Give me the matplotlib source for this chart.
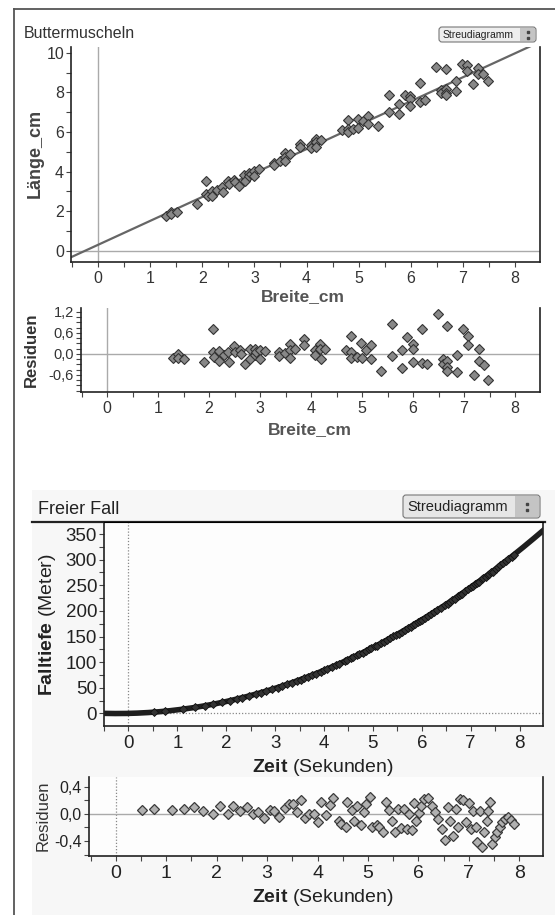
import matplotlib
matplotlib.use("Agg")
import matplotlib.pyplot as plt
import numpy as np
from matplotlib.patches import FancyBboxPatch, Rectangle
from matplotlib.ticker import MultipleLocator, FuncFormatter

plt.rcParams['font.family'] = ['Liberation Sans', 'DejaVu Sans']
plt.rcParams['mathtext.fontset'] = 'custom'
plt.rcParams['mathtext.rm'] = 'Liberation Sans'
plt.rcParams['mathtext.bf'] = 'Liberation Sans:bold'

# --- Buttermuscheln: Breite (cm) und Residuen der Regression ---
breite = [1.30, 1.39, 1.40, 1.51, 1.90, 2.08, 2.08, 2.10, 2.19, 2.19,
          2.29, 2.38, 2.40, 2.49, 2.51, 2.60, 2.62, 2.70, 2.80, 2.81,
          2.90, 2.90, 2.93, 3.00, 3.00, 3.09, 3.38, 3.38, 3.49, 3.58,
          3.58, 3.58, 3.68, 3.87, 3.87, 4.08, 4.08, 4.18, 4.18, 4.19,
          4.28, 4.69, 4.79, 4.79, 4.79, 4.90, 4.98, 4.99, 5.08, 5.17,
          5.17, 5.38, 5.58, 5.58, 5.78, 5.78, 5.88, 5.99, 5.99, 5.99,
          6.17, 6.17, 6.28, 6.49, 6.58, 6.58, 6.67, 6.67, 6.67, 6.67,
          6.87, 6.87, 6.98, 7.08, 7.08, 7.19, 7.29, 7.29, 7.39, 7.48]
residuen = [-0.11, 0.00, -0.13, -0.16, -0.23, 0.71, 0.05, -0.09, 0.08, -0.19,
            -0.02, 0.06, -0.24, 0.22, 0.05, 0.12, 0.00, -0.30, 0.15, -0.16,
            0.14, -0.04, 0.05, 0.12, -0.16, 0.08, 0.06, -0.05, 0.03, 0.29,
            0.12, -0.11, 0.14, 0.43, 0.24, 0.12, -0.02, 0.29, 0.14, -0.14,
            0.14, 0.12, 0.52, 0.06, -0.11, -0.10, 0.31, -0.11, 0.12, 0.24,
            -0.16, -0.50, 0.84, -0.05, 0.12, -0.40, 0.48, 0.27, 0.14, -0.23,
            0.71, -0.26, -0.30, 1.15, -0.16, -0.28, 0.81, -0.21, -0.38, -0.48,
            -0.02, -0.52, 0.71, 0.52, 0.24, -0.59, 0.14, -0.21, -0.33, -0.76]
fit_a, fit_b = 0.30, 1.21   # Laenge = a + b * Breite

# --- Freier Fall: Zeit (s) und Residuen des Modells ---
zeit = [0.53, 0.75, 1.12, 1.36, 1.56, 1.73, 1.92, 2.07, 2.22, 2.33,
        2.47, 2.61, 2.72, 2.82, 2.93, 3.05, 3.14, 3.24, 3.35, 3.44,
        3.52, 3.59, 3.68, 3.75, 3.84, 3.93, 4.01, 4.07, 4.17, 4.24,
        4.31, 4.42, 4.47, 4.56, 4.59, 4.68, 4.72, 4.79, 4.86, 4.93,
        4.96, 5.05, 5.08, 5.17, 5.22, 5.29, 5.35, 5.42, 5.47, 5.53,
        5.59, 5.66, 5.71, 5.77, 5.82, 5.87, 5.92, 5.96, 6.01, 6.06,
        6.12, 6.19, 6.26, 6.32, 6.39, 6.47, 6.53, 6.58, 6.62, 6.68,
        6.74, 6.79, 6.82, 6.89, 6.95, 7.00, 7.05, 7.09, 7.14, 7.17,
        7.23, 7.26, 7.31, 7.35, 7.38, 7.42, 7.45, 7.51, 7.56, 7.61,
        7.66, 7.72, 7.77, 7.84, 7.89]
res_fall = [0.05, 0.07, 0.05, 0.07, 0.10, 0.04, 0.00, 0.11, -0.01, 0.11,
            0.04, 0.10, -0.01, 0.03, -0.06, 0.05, 0.04, -0.04, 0.09, 0.15,
            0.14, 0.02, 0.20, -0.06, -0.01, -0.01, -0.12, 0.17, -0.02, 0.13,
            0.23, -0.11, -0.15, -0.19, 0.18, 0.05, -0.11, 0.12, -0.17, 0.02,
            0.15, 0.24, -0.20, -0.17, -0.20, -0.27, 0.18, 0.06, -0.10, -0.27,
            0.07, -0.21, 0.07, -0.23, -0.01, -0.24, 0.16, -0.11, 0.01, 0.12,
            0.22, 0.23, 0.12, 0.02, -0.07, -0.22, -0.39, 0.10, -0.10, -0.33,
            0.07, -0.19, 0.22, 0.20, -0.12, 0.16, -0.23, 0.04, -0.19, -0.41,
            0.04, -0.49, -0.27, -0.11, 0.04, 0.17, -0.45, -0.34, -0.27, -0.20,
            -0.12, -0.07, -0.05, -0.09, -0.15]
fall_a, fall_b = 4.70, 2.20   # Falltiefe = a*t^2 + b*t

W, H = 555, 915
fig = plt.figure(figsize=(W / 100, H / 100), dpi=100)
fig.patch.set_facecolor('white')


def rect(x0, y0, x1, y1):
    return [x0 / W, 1 - y1 / H, (x1 - x0) / W, (y1 - y0) / H]


def comma(v, pos):
    s = f"{v:.1f}".replace('.', ',')
    return '0,0' if s == '-0,0' else s


# background layer in pixel coordinates
bg = fig.add_axes([0, 0, 1, 1], zorder=-1)
bg.set_xlim(0, W)
bg.set_ylim(H, 0)
bg.axis('off')
bg.add_patch(Rectangle((32, 490), W - 32, H - 490, facecolor='#f7f7f7', edgecolor='none'))
bg.plot([14, 14], [9, H], color='#555555', lw=1.3)
bg.plot([14, W], [9, 9], color='#555555', lw=1.3)
bg.plot([32, 545], [521.7, 521.7], color='#222222', lw=1.6)


def button(x0, y0, x1, y1, fs, face):
    bg.add_patch(FancyBboxPatch((x0, y0), x1 - x0, y1 - y0,
                                boxstyle="round,pad=0,rounding_size=3",
                                facecolor=face, edgecolor='#777777', lw=0.8))
    sw = (y1 - y0) * 1.1
    bg.add_patch(Rectangle((x1 - sw, y0 + 1), sw - 1, y1 - y0 - 2,
                           facecolor='#c4c4c4', edgecolor='none'))
    cx, cy = x1 - sw / 2, (y0 + y1) / 2
    bg.plot([cx, cx], [cy - 3, cy + 3], ls='none', marker='s', ms=1.6, color='#444444')
    bg.text(x0 + 4, cy, 'Streudiagramm', fontsize=fs, ha='left', va='center', color='#222222')


button(439, 27, 536, 42, 7.5, '#eeeeee')
button(403, 495, 540, 518, 10.5, '#e6e6e6')

bg.text(24, 33, 'Buttermuscheln', fontsize=11.5, ha='left', va='center', color='#333333')
bg.text(38, 509, 'Freier Fall', fontsize=13, ha='left', va='center', color='#222222')

bg.text(35, 153, 'Länge_cm', fontsize=13, fontweight='bold', rotation=90,
        ha='center', va='center', color='#444444')
bg.text(303, 297, 'Breite_cm', fontsize=12.5, fontweight='bold', ha='center', va='center', color='#555555')
bg.text(31, 350, 'Residuen', fontsize=12, fontweight='bold', rotation=90,
        ha='center', va='center', color='#333333')
bg.text(310, 430, 'Breite_cm', fontsize=12.5, fontweight='bold', ha='center', va='center', color='#555555')
bg.text(48, 625, r'$\mathbf{Falltiefe}$ (Meter)', fontsize=14, rotation=90,
        ha='center', va='center', color='#222222')
bg.text(323, 767, r'$\mathbf{Zeit}$ (Sekunden)', fontsize=14, ha='center', va='center', color='#222222')
bg.text(43, 816, 'Residuen', fontsize=12, rotation=90, ha='center', va='center', color='#333333')
bg.text(323, 897, r'$\mathbf{Zeit}$ (Sekunden)', fontsize=14, ha='center', va='center', color='#222222')


def style(ax, fs, color, top=False):
    for s in ['left', 'bottom', 'right']:
        ax.spines[s].set_color('#222222')
        ax.spines[s].set_linewidth(1.2)
    ax.spines['top'].set_visible(top)
    ax.tick_params(which='both', direction='out', length=3.5, width=0.8,
                   colors='#444444', labelsize=fs, labelcolor=color, pad=1.5)
    ax.tick_params(axis='x', which='both', pad=3)


# --- Plot 1: Buttermuscheln ---
x_b = np.array(breite)
laenge = fit_a + fit_b * x_b + np.array(residuen)

ax1 = fig.add_axes(rect(71, 47, 540, 262))
ax1.set_xlim(-0.52, 8.48)
ax1.set_ylim(-0.57, 10.3)
ax1.axvline(0, color='#aaaaaa', lw=1)
ax1.axhline(0, color='#aaaaaa', lw=1)
xl = np.array(ax1.get_xlim())
ax1.plot(xl, fit_a + fit_b * xl, color='#666666', lw=1.6, zorder=2)
ax1.plot(x_b, laenge, ls='none', marker='D', ms=5.2, mfc='#888888', mec='#333333', mew=0.8, zorder=3)
ax1.xaxis.set_major_locator(MultipleLocator(1))
ax1.xaxis.set_minor_locator(MultipleLocator(0.5))
ax1.yaxis.set_major_locator(MultipleLocator(2))
ax1.yaxis.set_minor_locator(MultipleLocator(1))
style(ax1, 11.5, '#333333')

# --- Residuen Buttermuscheln ---
ax1r = fig.add_axes(rect(81, 308, 540, 392))
ax1r.set_xlim(-0.51, 8.49)
ax1r.set_ylim(-1.09, 1.31)
ax1r.axvline(0, color='#aaaaaa', lw=1)
ax1r.axhline(0, color='#aaaaaa', lw=1)
ax1r.plot(breite, residuen, ls='none', marker='D', ms=5.2, mfc='#888888', mec='#333333', mew=0.8, zorder=3)
ax1r.xaxis.set_major_locator(MultipleLocator(1))
ax1r.xaxis.set_minor_locator(MultipleLocator(0.5))
ax1r.yaxis.set_major_locator(MultipleLocator(0.6))
ax1r.yaxis.set_minor_locator(MultipleLocator(0.15))
ax1r.yaxis.set_major_formatter(FuncFormatter(comma))
style(ax1r, 11.5, '#333333')
ax1r.tick_params(axis='y', labelsize=10.5)

# --- Plot 2: Freier Fall ---
t = np.array(zeit)
tiefe = fall_a * t ** 2 + fall_b * t + np.array(res_fall)

ax2 = fig.add_axes(rect(104, 521.7, 543, 725.7))
ax2.set_facecolor('#fdfdfd')
ax2.set_xlim(-0.5, 8.48)
ax2.set_ylim(-24, 374)
ax2.axvline(0, color='#888888', lw=0.9, ls=(0, (1, 1.5)))
ax2.axhline(0, color='#888888', lw=0.9, ls=(0, (1, 1.5)))
tt = np.linspace(-0.5, 8.48, 200)
ax2.plot(tt, fall_a * tt ** 2 + fall_b * tt, color='#1e1e1e', lw=4.0, zorder=2)
ax2.plot(t, tiefe, ls='none', marker='D', ms=3.6, mfc='#333333', mec='#111111', mew=0.6, zorder=3)
ax2.xaxis.set_major_locator(MultipleLocator(1))
ax2.xaxis.set_minor_locator(MultipleLocator(0.5))
ax2.yaxis.set_major_locator(MultipleLocator(50))
ax2.yaxis.set_minor_locator(MultipleLocator(25))
style(ax2, 13.5, '#222222', top=True)

# --- Residuen Freier Fall ---
ax2r = fig.add_axes(rect(88.5, 777, 543, 856))
ax2r.set_facecolor('#fdfdfd')
ax2r.set_xlim(-0.54, 8.47)
ax2r.set_ylim(-0.62, 0.54)
ax2r.axvline(0, color='#888888', lw=0.9, ls=(0, (1, 1.5)))
ax2r.axhline(0, color='#aaaaaa', lw=1)
ax2r.plot(zeit, res_fall, ls='none', marker='D', ms=5.0, mfc='#b0b0b0', mec='#3a3a3a', mew=0.9, zorder=3)
ax2r.xaxis.set_major_locator(MultipleLocator(1))
ax2r.xaxis.set_minor_locator(MultipleLocator(0.5))
ax2r.yaxis.set_major_locator(MultipleLocator(0.4))
ax2r.yaxis.set_minor_locator(MultipleLocator(0.2))
ax2r.yaxis.set_major_formatter(FuncFormatter(comma))
style(ax2r, 14, '#222222')
ax2r.tick_params(axis='y', labelsize=11.5)

fig.savefig('out.png', dpi=100)
